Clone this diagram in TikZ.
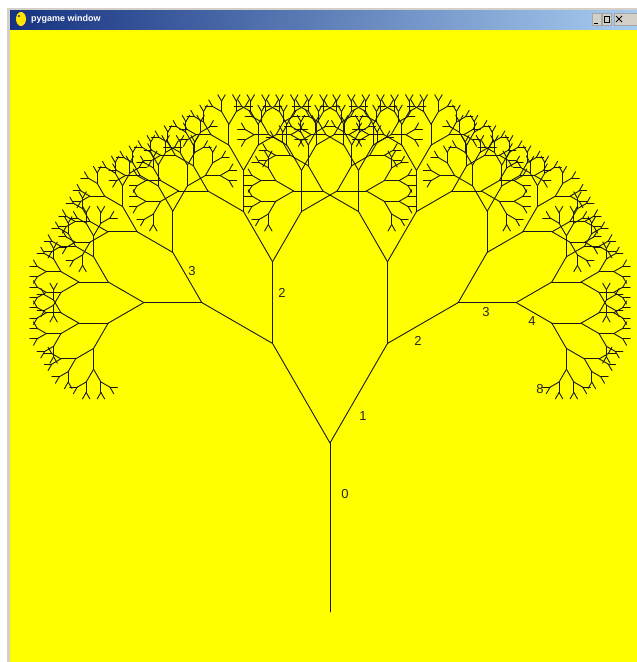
\documentclass[tikz,border=0pt]{standalone}
\usepackage{fontspec}
\setmainfont{Liberation Sans}
\usetikzlibrary{positioning}

\definecolor{gelb}{RGB}{255,255,0}
\definecolor{titeldunkel}{RGB}{22,50,128}
\definecolor{titelhell}{RGB}{168,204,240}
\definecolor{rahmen}{RGB}{212,208,200}

\tikzset{
  ast/.style={line width=0.9pt, black!90, line cap=round},
  zahl/.style={font=\fontsize{13}{14}\selectfont, text=black!85, inner sep=0pt},
  knopf/.style={fill=rahmen, draw=gray!70, line width=0.5pt}
}

% 递归画树枝: #1 = 剩下的层数, #2 = 长度
\newcommand\drawbranch[2]{%
  \pgfmathsetmacro\lang{#2}%
  \draw[ast] (0,0) -- (0,-\lang);%
  \ifnum#1>0
    \pgfmathsetmacro\kurz{0.71*\lang}%
    \begin{scope}[shift={(0,-\lang)},rotate=30]\drawbranch{\numexpr#1-1\relax}{\kurz}\end{scope}%
    \begin{scope}[shift={(0,-\lang)},rotate=-30]\drawbranch{\numexpr#1-1\relax}{\kurz}\end{scope}%
  \fi}

\begin{document}
\begin{tikzpicture}[x=1pt,y=-1pt]

    \useasboundingbox (0,0) rectangle (637,662);
    \fill[white] (0,0) rectangle (637,662);

    % 窗口边框和标题栏
    \fill[rahmen] (7,8) rectangle (637,10);
    \fill[rahmen] (7,8) rectangle (10,662);
    \shade[left color=titeldunkel, right color=titelhell] (10,10) rectangle (637,30);
    \fill[gelb!80!orange] (21,19) ellipse (5 and 7);
    \fill[titeldunkel] (19,16) circle (1.2);
    \node[anchor=west, font=\fontsize{9}{10}\selectfont\bfseries, text=white, inner sep=0pt] (titel) at (31,19.5) {pygame window};
    \draw[knopf] (592,13) rectangle (601,25);
    \draw[knopf] (602,13) rectangle (611,25);
    \draw[knopf] (614,13) rectangle (637,25);
    \draw[black, line width=1pt] (594,23) -- (598,23);
    \draw[black, line width=0.6pt] (604,16) rectangle (609,22);
    \draw[black, line width=1pt] (616,16) -- (622,22) (622,16) -- (616,22);

    % 黄色的画布
    \fill[gelb] (10,30) rectangle (637,662);

    % 树干和两边的树枝
    \draw[ast] (330,612) -- (330,443);
    \begin{scope}[shift={(330,443)},rotate=30]\drawbranch{8}{115}\end{scope}
    \begin{scope}[shift={(330,443)},rotate=-30]\drawbranch{8}{115}\end{scope}

    % 层数标记
    \node[zahl] (n0) at (345,494) {0};
    \node[zahl] (n1) at (363,416) {1};
    \node[zahl] (n2a) at (282,293) {2};
    \node[zahl] (n2b) at (418,341) {2};
    \node[zahl] (n3a) at (192,271) {3};
    \node[zahl] (n3b) at (486,312) {3};
    \node[zahl] (n4) at (532,321) {4};
    \node[zahl] (n8) at (540,389) {8};

  \end{tikzpicture}
\end{document}
